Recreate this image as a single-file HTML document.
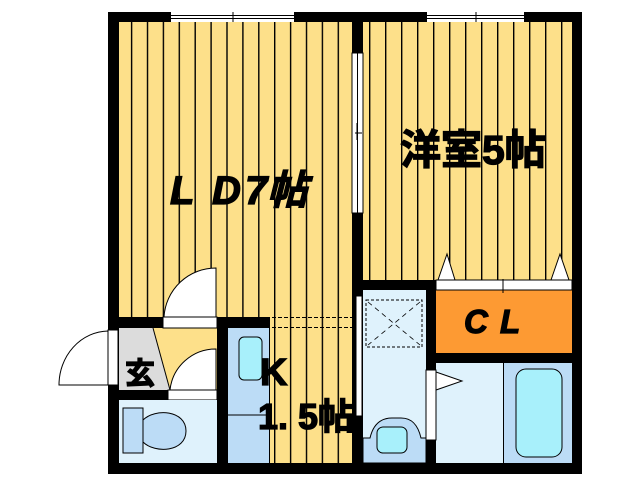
<!DOCTYPE html>
<html><head><meta charset="utf-8"><style>
html,body{margin:0;padding:0;background:#fff;}
svg{display:block;}
text{font-family:"Liberation Sans","Noto Sans CJK JP",sans-serif;font-weight:bold;fill:#000;stroke:#000;stroke-width:1.3;}
</style></head><body>
<svg width="638" height="480" viewBox="0 0 638 480" xmlns="http://www.w3.org/2000/svg">
<defs>
<pattern id="st1" x="115" y="0" width="15.9" height="10" patternUnits="userSpaceOnUse">
<rect width="15.9" height="10" fill="#fde08a"/><rect x="0" width="1.4" height="10" fill="#000"/></pattern>
<pattern id="st2" x="369" y="0" width="16" height="10" patternUnits="userSpaceOnUse">
<rect width="16" height="10" fill="#fde08a"/><rect x="0" width="1.4" height="10" fill="#000"/></pattern>
</defs>
<rect x="108" y="12" width="474" height="462" fill="#000"/>
<rect x="119" y="22" width="233" height="295" fill="url(#st1)"/>
<rect x="270" y="317" width="82" height="146" fill="url(#st1)"/>
<rect x="363" y="22" width="209" height="258" fill="url(#st2)"/>
<rect x="171" y="12" width="123" height="10" fill="#fff"/>
<path d="M171 15.5H294M171 18.5H294M233 12V22" stroke="#000" stroke-width="1"/>
<rect x="427" y="12" width="97" height="10" fill="#fff"/>
<path d="M427 15.5H524M427 18.5H524M476 12V22" stroke="#000" stroke-width="1"/>
<rect x="352" y="53" width="11" height="160" fill="#fff" stroke="#000" stroke-width="1"/>
<path d="M357.5 53V213M355 133H362M357 123V140" stroke="#000" stroke-width="1"/>
<rect x="119" y="328" width="98" height="62" fill="#dcdcdc"/>
<polygon points="153,328 217,328 217,390 170,390" fill="#fde08a"/>
<path d="M153 328L170 390" stroke="#000" stroke-width="1"/>
<rect x="163" y="317" width="54" height="11" fill="#fff" stroke="#000" stroke-width="1"/>
<path d="M216 317V268A52 52 0 0 0 164 317Z" fill="#fff" stroke="#000" stroke-width="1"/>
<rect x="108" y="330" width="10" height="55" fill="#fff" stroke="#000" stroke-width="1"/>
<path d="M108 385V331A50 54 0 0 0 59 385Z" fill="#fff" stroke="#000" stroke-width="1"/>
<rect x="168" y="390" width="49" height="10" fill="#fff" stroke="#000" stroke-width="1"/>
<path d="M216 390V349A46 46 0 0 0 170 390Z" fill="#fff" stroke="#000" stroke-width="1"/>
<rect x="119" y="400" width="98" height="63" fill="#dff2fc"/>
<rect x="123" y="408" width="20" height="45" fill="#bcdcf6" stroke="#000" stroke-width="1"/>
<path d="M143 420C155 408 186 410 186 431C186 452 155 454 143 442Z" fill="#bcdcf6" stroke="#000" stroke-width="1"/>
<rect x="228" y="328" width="42" height="135" fill="#bcdcf6"/>
<path d="M228 415H269M269.5 328V463" stroke="#000" stroke-width="1"/>
<rect x="239" y="337" width="23" height="43" rx="5" fill="#a8f0fb" stroke="#000" stroke-width="1"/>
<path d="M272 317.5H352M272 327.5H352" stroke="#000" stroke-width="1" stroke-dasharray="4,2"/>
<rect x="363" y="290" width="63" height="173" fill="#dff2fc"/>
<rect x="366" y="300" width="56" height="47" fill="none" stroke="#000" stroke-width="1" stroke-dasharray="3,2"/>
<path d="M368 302L420 345M420 302L368 345" stroke="#000" stroke-width="0.8" stroke-dasharray="5,4"/>
<path d="M363 438H370C373 425 380 418 392 418H401C412 418 418 425 421 438H426V463H363Z" fill="#bcdcf6" stroke="#000" stroke-width="1"/>
<rect x="377" y="427" width="30" height="26" rx="6" fill="#a8f0fb" stroke="#000" stroke-width="1"/>
<rect x="356" y="296" width="6" height="120" fill="#fff" stroke="#000" stroke-width="1"/>
<rect x="436" y="363" width="136" height="100" fill="#dff2fc"/>
<rect x="503" y="363" width="69" height="100" fill="#bcdcf6"/>
<path d="M503.5 363V463" stroke="#000" stroke-width="1"/>
<rect x="516" y="369" width="46" height="88" rx="10" fill="#a8f0fb" stroke="#000" stroke-width="1"/>
<rect x="426" y="370" width="10" height="70" fill="#fff" stroke="#000" stroke-width="1"/>
<polygon points="436,372 462,381 436,390" fill="#fff" stroke="#000" stroke-width="1"/>
<rect x="436" y="290" width="136" height="63" fill="#fd9a33"/>
<rect x="436" y="280" width="136" height="10" fill="#fff" stroke="#000" stroke-width="1"/>
<path d="M503 279V293" stroke="#000" stroke-width="1"/>
<polygon points="438,280 447,254 455,280" fill="#fff" stroke="#000" stroke-width="1"/>
<polygon points="551,280 560,254 569,280" fill="#fff" stroke="#000" stroke-width="1"/>
<text x="170" y="204" font-size="40" font-style="italic">L</text>
<text x="212" y="204" font-size="40" font-style="italic">D</text>
<text x="245" y="204" font-size="40" font-style="italic">7帖</text>
<text x="400" y="164" font-size="41">洋室5帖</text>
<text x="464" y="333" font-size="33" font-style="italic">C</text>
<text x="500" y="333" font-size="33" font-style="italic">L</text>
<text x="125" y="384" font-size="30">玄</text>
<text x="260" y="385" font-size="38">K</text>
<text x="258" y="429" font-size="36">1. 5帖</text>
</svg>
</body></html>
